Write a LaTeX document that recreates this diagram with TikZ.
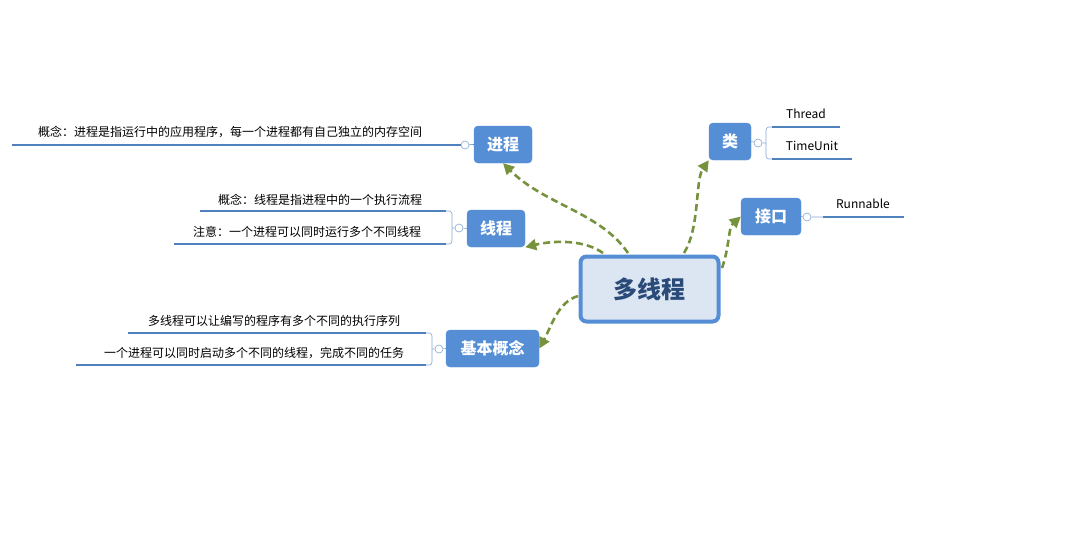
\documentclass[tikz,border=0pt]{standalone}
\usepackage{fontspec}
\setmainfont{Noto Sans CJK SC}
\usetikzlibrary{arrows.meta}
\definecolor{boxb}{HTML}{558ED5}
\definecolor{cfill}{HTML}{DCE6F2}
\definecolor{lineb}{HTML}{4F81BD}
\definecolor{olive}{HTML}{76923C}
\definecolor{ctext}{HTML}{2A4A7A}
\tikzset{
 topic/.style={draw=boxb,fill=boxb,rounded corners=4pt,text=white,font=\fontsize{16}{18}\selectfont\bfseries,inner sep=0pt},
 leaf/.style={font=\fontsize{12}{14}\selectfont,inner sep=0pt,anchor=base},
 uline/.style={draw=lineb,line width=2pt},
 brk/.style={draw=lineb!70,line width=0.6pt,rounded corners=3pt},
 coll/.style={circle,draw=lineb!70,fill=white,minimum size=8pt,inner sep=0pt,line width=0.6pt},
 conn/.style={draw=olive,line width=2.6pt,dash pattern=on 7pt off 4pt,-{Triangle[length=11pt,width=11pt]}},
}
\begin{document}
\begin{tikzpicture}[x=1pt,y=-1pt]
\useasboundingbox (0,0) rectangle (1068,558);
% central
\node[draw=boxb,fill=cfill,line width=4pt,rounded corners=6pt,minimum width=138pt,minimum height=65pt,text=ctext,font=\fontsize{24}{28}\selectfont\bfseries] (c) at (649.5,289) {多线程};
% topics
\node[topic,minimum width=58pt,minimum height=37pt] (jc) at (503,144.5) {进程};
\node[topic,minimum width=58pt,minimum height=37pt] (xc) at (496,228.5) {线程};
\node[topic,minimum width=93pt,minimum height=37pt] (jb) at (492.5,348.5) {基本概念};
\node[topic,minimum width=42pt,minimum height=37pt] (lei) at (730,141.5) {类};
\node[topic,minimum width=60pt,minimum height=37pt] (jk) at (771,216.5) {接口};
% 进程 leaves
\node[leaf] (t1) at (230,136) {概念：进程是指运行中的应用程序，每一个进程都有自己独立的内存空间};
\coordinate (l1a) at (12,145); \coordinate (l1b) at (461,145);
\draw[uline] (l1a) -- (l1b);
\node[coll] (k1) at (465,145) {};
\draw[lineb,line width=0.6pt] (k1) -- (jc.west);
% 线程 leaves
\node[leaf] (t2) at (320,204) {概念：线程是指进程中的一个执行流程};
\node[leaf] (t3) at (307,236) {注意：一个进程可以同时运行多个不同线程};
\coordinate (l2a) at (200,211); \coordinate (l2b) at (446,211);
\coordinate (l3a) at (174,244); \coordinate (l3b) at (446,244);
\draw[uline] (l2a) -- (l2b);
\draw[uline] (l3a) -- (l3b);
\node[coll] (k2) at (459,228) {};
\draw[brk] (l2b) -- (452,211) -- (452,244) -- (l3b);
\draw[lineb!70,line width=0.6pt] (452,228) -- (k2) -- (xc.west);
% 基本概念 leaves
\node[leaf] (t4) at (274,325) {多线程可以让编写的程序有多个不同的执行序列};
\node[leaf] (t5) at (254,357) {一个进程可以同时启动多个不同的线程，完成不同的任务};
\coordinate (l4a) at (128,333); \coordinate (l4b) at (426,333);
\coordinate (l5a) at (76,365); \coordinate (l5b) at (426,365);
\draw[uline] (l4a) -- (l4b);
\draw[uline] (l5a) -- (l5b);
\node[coll] (k3) at (439,349) {};
\draw[brk] (l4b) -- (432,333) -- (432,365) -- (l5b);
\draw[lineb!70,line width=0.6pt] (432,349) -- (k3) -- (jb.west);
% 类 leaves
\node[leaf] (t6) at (806,118) {Thread};
\node[leaf] (t7) at (812,150) {TimeUnit};
\coordinate (l6a) at (772,127); \coordinate (l6b) at (840,127);
\coordinate (l7a) at (772,159); \coordinate (l7b) at (852,159);
\draw[uline] (l6a) -- (l6b);
\draw[uline] (l7a) -- (l7b);
\node[coll] (k4) at (758,143) {};
\draw[brk] (l6a) -- (766,127) -- (766,159) -- (l7a);
\draw[lineb!70,line width=0.6pt] (lei.east) -- (k4) -- (766,143);
% 接口 leaf
\node[leaf] (t8) at (863,208) {Runnable};
\coordinate (l8a) at (823,217); \coordinate (l8b) at (904,217);
\draw[uline] (l8a) -- (l8b);
\node[coll] (k5) at (807,217) {};
\draw[lineb!70,line width=0.6pt] (jk.east) -- (k5) -- (l8a);
% connectors
\coordinate (s1) at (628,253);
\coordinate (s2) at (603,253);
\coordinate (s3) at (578,296);
\coordinate (s4) at (684,253);
\coordinate (s5) at (722,268);
\draw[conn] (s1) .. controls (600,212) and (545,205) .. (jc.south);
\draw[conn] (s2) .. controls (585,240) and (555,240) .. (xc.south east);
\draw[conn] (s3) .. controls (558,302) and (552,325) .. (jb.east);
\draw[conn] (s4) .. controls (700,228) and (695,180) .. (lei.south west);
\draw[conn] (s5) .. controls (730,245) and (728,228) .. (jk.west);
\end{tikzpicture}
\end{document}
